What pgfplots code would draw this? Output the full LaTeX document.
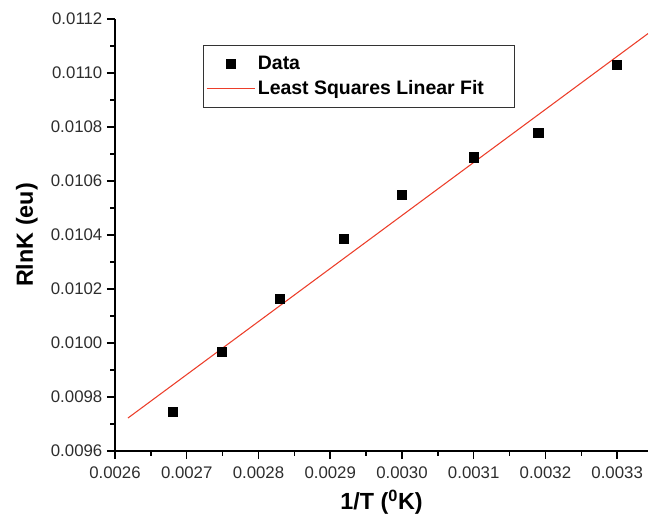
\documentclass[border=0pt]{standalone}
\usepackage{fontspec}
\setmainfont{Liberation Sans}
\usepackage{pgfplots}
\pgfplotsset{compat=1.18}
\definecolor{fitred}{RGB}{236,62,42}
\definecolor{ticktext}{RGB}{45,45,45}

\begin{document}
\begin{tikzpicture}
\begin{axis}[
  scale only axis,
  width=399.75pt,
  height=324pt,
  xmin=0.0026, xmax=0.003343,
  ymin=0.0096, ymax=0.0112,
  axis x line=bottom,
  axis y line=left,
  axis line style={-, line width=1.1pt},
  xtick={0.0026,0.0027,...,0.00331},
  ytick={0.0096,0.0098,...,0.01121},
  minor x tick num=1,
  minor y tick num=1,
  tick align=outside,
  major tick length=6pt,
  minor tick length=3.5pt,
  tick style={line width=1.1pt, black},
  scaled ticks=false,
  /pgf/number format/assume math mode=true,
  xticklabel={\pgfmathprintnumber[fixed,fixed zerofill,precision=4]{\tick}},
  yticklabel={\pgfmathprintnumber[fixed,fixed zerofill,precision=4]{\tick}},
  ticklabel style={font=\fontsize{12.6}{14}\selectfont, text=ticktext},
  xticklabel style={yshift=-2pt},
  xlabel={\textbf{1/T (\textsuperscript{0}K)}},
  ylabel={\textbf{RlnK (eu)}},
  label style={font=\fontsize{17.5}{20}\selectfont},
  xlabel style={yshift=-2pt},
  ylabel style={yshift=3pt},
  legend style={at={(0.165,0.94)}, anchor=north west, draw=black!80, line width=0.8pt,
    font=\bfseries\fontsize{14.6}{17}\selectfont, row sep=3pt,
    inner xsep=2pt, inner ysep=6pt},
  legend image code/.code={%
    \draw[mark repeat=2,mark phase=2,#1] plot coordinates {(0pt,0pt) (18pt,0pt) (36pt,0pt)};},
  legend cell align=left,
  clip=true,
]
\addplot[only marks, mark=square*, mark size=3.4pt, black] coordinates {
  (0.002680,0.009744) (0.002749,0.009966) (0.002830,0.010165) (0.002919,0.010387)
  (0.003000,0.010550) (0.003100,0.010688) (0.003190,0.010780) (0.003300,0.011030)
};
\addlegendentry{Data}
\addplot[fitred, line width=0.8pt, mark=none] coordinates {
  (0.002618,0.009722) (0.003343,0.011146)
};
\addlegendentry{Least Squares Linear Fit\rule{19pt}{0pt}}
\end{axis}
\pgfresetboundingbox
\path[use as bounding box] (-86.25pt,-58.5pt) rectangle (400.5pt,338.25pt);
\end{tikzpicture}
\end{document}
